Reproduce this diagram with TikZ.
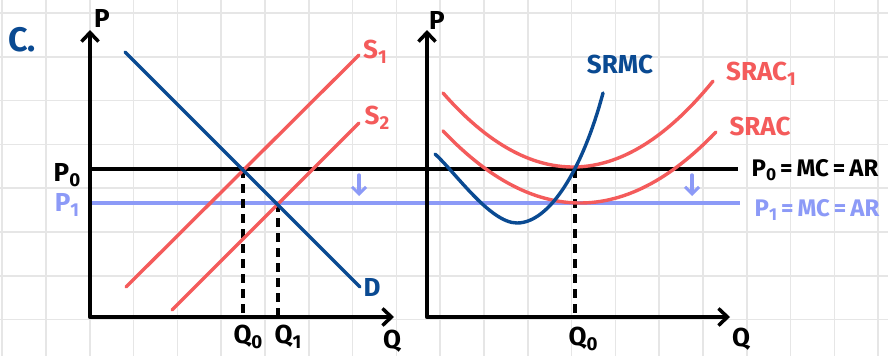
\documentclass[tikz,border=0pt]{standalone}
\usepackage{fontspec}
\usepackage{graphicx}
\setmainfont{Fira Sans}
\usetikzlibrary{arrows.meta}
\definecolor{dblue}{RGB}{10,74,146}
\definecolor{sred}{RGB}{244,91,91}
\definecolor{lav}{RGB}{140,154,247}
\definecolor{gridc}{RGB}{230,230,230}
\newcommand{\lo}[1]{\raisebox{-0.35ex}{\scalebox{0.72}{#1}}}
\tikzset{
  gridline/.style={draw=gridc, line width=1.6pt},
  axis/.style={draw=black, line width=4.5pt, line cap=round, line join=round,
    {Straight Barb[length=9pt,width=17pt,line width=3.5pt]}-{Straight Barb[length=9pt,width=17pt,line width=3.5pt]}},
  pline/.style={draw=black, line width=3.6pt},
  p1line/.style={draw=lav, line width=3.6pt},
  dcurve/.style={draw=dblue, line width=3.4pt, line cap=round},
  rcurve/.style={draw=sred, line width=3.4pt, line cap=round},
  dashln/.style={draw=black, line width=3.4pt, dash pattern=on 9pt off 6pt},
  downarr/.style={draw=lav, line width=3.4pt, line cap=round, -{Straight Barb[length=7pt,width=14pt,line width=3pt]}},
  lbl/.style={font=\fontsize{26}{26}\selectfont\bfseries, inner sep=0pt},
}
\begin{document}
\begin{tikzpicture}[x=1pt,y=-1pt]
\useasboundingbox (0,0) rectangle (888,356);
\fill[white] (0,0) rectangle (888,356);
\foreach \i in {0,...,20} \draw[gridline] ({2.2+43.8*\i},0) -- ({2.2+43.8*\i},356);
\foreach \j in {0,...,7} \draw[gridline] (0,{13+43.8*\j}) -- (888,{13+43.8*\j});

% key points
\coordinate (O1) at (90,317);
\coordinate (Y1) at (90,30);
\coordinate (X1) at (394,317);
\coordinate (O2) at (427,317);
\coordinate (Y2) at (427,30);
\coordinate (X2) at (730,317);
\coordinate (P0a) at (90,169);
\coordinate (P0b) at (738,169);
\coordinate (P1a) at (90,203);
\coordinate (P1b) at (740,203);
\coordinate (Da) at (125,52);
\coordinate (Db) at (360,287);
\coordinate (S1a) at (126,287);
\coordinate (S1b) at (359,55);
\coordinate (S2a) at (172,310);
\coordinate (S2b) at (359,123);
\coordinate (E0) at (243,169);
\coordinate (E0q) at (243,317);
\coordinate (E1) at (278,203);
\coordinate (E1q) at (278,317);
\coordinate (E2) at (575,169);
\coordinate (E2q) at (575,317);
\coordinate (A1a) at (359,175);
\coordinate (A1b) at (359,196);
\coordinate (A2a) at (692,175);
\coordinate (A2b) at (692,196);
\coordinate (MCa) at (435,154);
\coordinate (MCm) at (517,223);
\coordinate (MCb) at (603,93);

% price lines
\draw[p1line] (P1a) -- (P1b);
\draw[pline] (P0a) -- (P0b);

% left graph
\draw[dashln] (E0) -- (E0q);
\draw[dashln] (E1) -- (E1q);
\draw[rcurve] (S1a) -- (S1b);
\draw[rcurve] (S2a) -- (S2b);
\draw[dcurve] (Da) -- (Db);

% right graph
\draw[dashln] (E2) -- (E2q);
\draw[rcurve] plot[domain=443:713, samples=60] (\x, {167 - 43.8*((\x-573)/100)*((\x-573)/100)});
\draw[rcurve] plot[domain=443:716, samples=60] (\x, {203 - 38.4*((\x-580)/100)*((\x-580)/100)});
\draw[dcurve] (MCa) .. controls (455,172) and (490,223) .. (MCm)
              .. controls (550,223) and (583,168) .. (MCb);

% axes
\draw[axis] (Y1) -- (O1) -- (X1);
\draw[axis] (Y2) -- (O2) -- (X2);

% small arrows
\draw[downarr] (A1a) -- (A1b);
\draw[downarr] (A2a) -- (A2b);

% labels
\node[lbl, text=dblue, font=\fontsize{34}{34}\selectfont\bfseries] (lc) at (22,40) {C.};
\node[lbl] (lp1) at (102,18) {P};
\node[lbl] (lq1) at (392,341) {Q};
\node[lbl] (lp2) at (437,20) {P};
\node[lbl] (lq2) at (741,339) {Q};
\node[lbl] (lP0) at (67,175) {P\lo{0}};
\node[lbl, text=lav] (lP1) at (67,205) {P\lo{1}};
\node[lbl] (lQ0) at (248,337) {Q\lo{0}};
\node[lbl] (lQ1) at (288,337) {Q\lo{1}};
\node[lbl] (lQ0r) at (583,339) {Q\lo{0}};
\node[lbl, text=dblue] (lD) at (372,287) {D};
\node[lbl, text=sred] (lS1) at (375,52) {S\lo{1}};
\node[lbl, text=sred] (lS2) at (377,118) {S\lo{2}};
\node[lbl, text=dblue] (lsrmc) at (620,64) {SRMC};
\node[lbl, text=sred] (lsrac1) at (761,74) {SRAC\lo{1}};
\node[lbl, text=sred] (lsrac) at (760,126) {SRAC};
\node[lbl, font=\fontsize{24}{24}\selectfont\bfseries] (lp0r) at (815,170) {P\lo{0}\,=\,MC\,=\,AR};
\node[lbl, text=lav, font=\fontsize{24}{24}\selectfont\bfseries] (lp1r) at (817,210) {P\lo{1}\,=\,MC\,=\,AR};
\end{tikzpicture}
\end{document}
